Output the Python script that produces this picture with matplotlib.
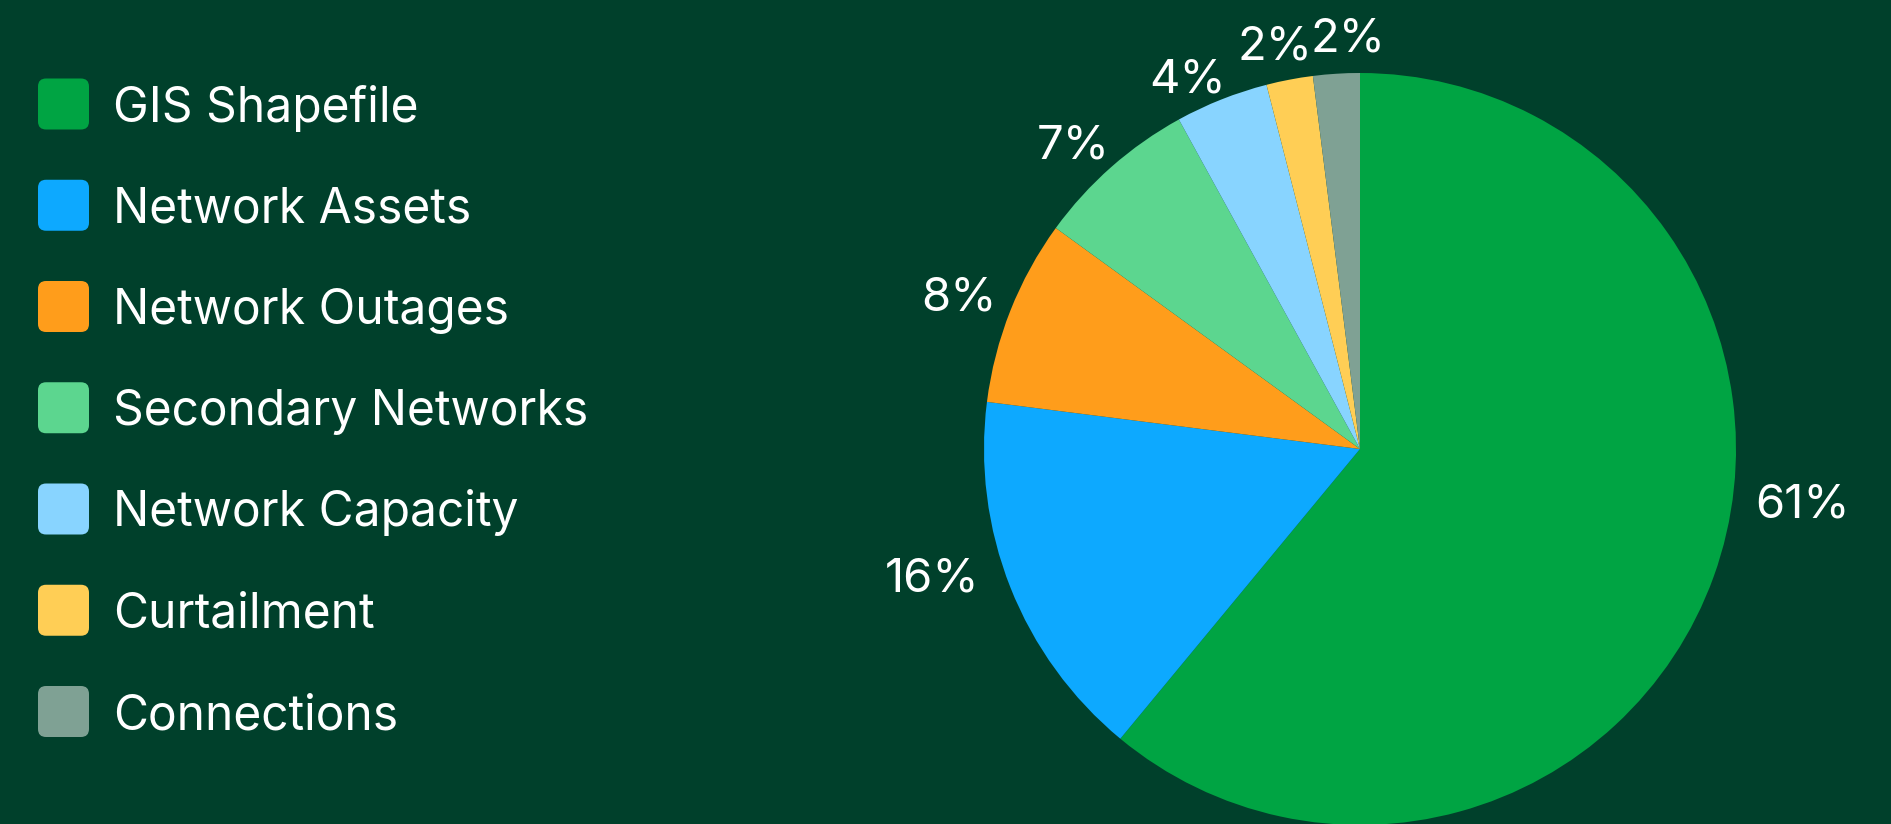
import numpy as np
import matplotlib
matplotlib.use("Agg")
import matplotlib.pyplot as plt
from matplotlib.patches import FancyBboxPatch

# ---- data ----
categories = ["GIS Shapefile", "Network Assets", "Network Outages", "Secondary Networks",
              "Network Capacity", "Curtailment", "Connections"]
values = [61, 16, 8, 7, 4, 2, 2]
colors = ["#00A443", "#0DA9FF", "#FF9D1B", "#5CD68F", "#88D4FF", "#FFCE55", "#7FA194"]

# ---- layout / style ----
BG = "#00402B"
W, H = 1891, 824
plt.rcParams['font.family'] = ['Inter', 'DejaVu Sans']
FS_LEG = 34.5
FS_LAB = 34
CAP = 17.5  # half cap height in px

label_shift = [13.2, -5.3, 0.3, 1.6, 3.1, 1.0, -1.9]     # degrees
label_radius = [1.186, 1.186, 1.144, 1.12, 1.096, 1.106, 1.104]

fig = plt.figure(figsize=(W / 100, H / 100), dpi=100, facecolor=BG)
ax = fig.add_axes([0, 0, 1, 1])
ax.set_facecolor(BG)

cx, cy, R = 1360, H - 449, 376
wedges, _ = ax.pie(values, colors=colors, startangle=90, counterclock=False,
                   center=(cx, cy), radius=R, wedgeprops=dict(linewidth=0))

total = sum(values)
for i, w in enumerate(wedges):
    mid = np.deg2rad((w.theta1 + w.theta2) / 2 + label_shift[i])
    r = R * label_radius[i]
    x = cx + r * np.cos(mid)
    y = cy + r * np.sin(mid)
    ax.text(x, y - CAP, f"{round(values[i] / total * 100)}%", color="white",
            fontsize=FS_LAB, ha="center", va="baseline")

# legend
sq = 51
for i, (cat, col) in enumerate(zip(categories, colors)):
    yc = H - (104 + i * 101.25)
    ax.add_patch(FancyBboxPatch((38, yc - sq / 2), sq, sq,
                                boxstyle="round,pad=0,rounding_size=8",
                                facecolor=col, edgecolor="none"))
    ax.text(113, yc - CAP, cat, color="white", fontsize=FS_LEG, ha="left", va="baseline")

ax.set_xlim(0, W)
ax.set_ylim(0, H)
ax.set_aspect("auto")
ax.axis("off")

fig.savefig("out.png", dpi=100, facecolor=BG)
